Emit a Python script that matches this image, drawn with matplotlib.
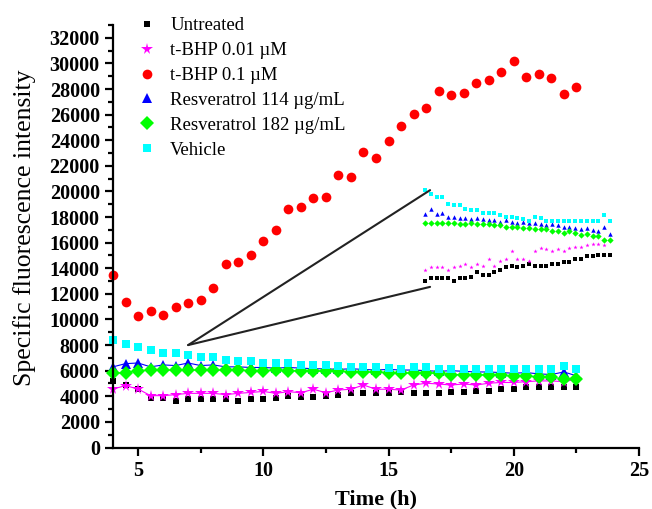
import numpy as np
import matplotlib
matplotlib.use("Agg")
import matplotlib.pyplot as plt
from matplotlib.ticker import MultipleLocator
from matplotlib.patches import ConnectionPatch
from matplotlib.lines import Line2D

plt.rcParams['font.family'] = ['Liberation Serif', 'DejaVu Serif']

time_h = np.arange(4.0, 22.51, 0.5)

untreated = [5200, 4900, 4600, 3860, 3860, 3650, 3780, 3780, 3780, 3780, 3650, 3780, 3780,
             3840, 4020, 3920, 3920, 4020, 4100, 4230, 4280, 4230, 4280, 4360, 4280, 4280,
             4280, 4360, 4360, 4440, 4440, 4550, 4550, 4700, 4700, 4750, 4750, 4750]
tbhp_001 = [4570, 4830, 4570, 4050, 4050, 4130, 4230, 4230, 4230, 4130, 4230, 4300, 4380,
            4230, 4360, 4280, 4550, 4280, 4490, 4550, 4880, 4550, 4550, 4490, 4880, 5020,
            4960, 4880, 4960, 4880, 5020, 5080, 5080, 5140, 5200, 5200, 5140, 5330]
tbhp_01 = [13500, 11400, 10300, 10700, 10350, 11000, 11250, 11550, 12450, 14350, 14500, 15000,
           16100, 17000, 18650, 18750, 19500, 19550, 21300, 21150, 23100, 22600, 23950, 25150,
           26050, 26550, 27850, 27550, 27650, 28450, 28700, 29300, 30200, 28900, 29200, 28850,
           27600, 28150]
resv_114 = [6300, 6550, 6600, 6300, 6450, 6400, 6600, 6400, 6450, 6300, 6300, 6250, 6250,
            6200, 6250, 6200, 6150, 6150, 6100, 6150, 6100, 6050, 6100, 6050, 6050, 6000,
            5950, 6000, 5950, 5900, 5900, 5850, 5800, 5850, 5750, 5700, 5900, 5600]
resv_182 = [5800, 5850, 6000, 6050, 6050, 6050, 6050, 6050, 6050, 6050, 6050, 6000, 6000,
            6050, 6000, 6000, 6000, 5950, 5950, 5900, 5900, 5900, 5850, 5850, 5800, 5800,
            5800, 5700, 5700, 5650, 5700, 5650, 5550, 5600, 5500, 5500, 5350, 5350]
vehicle = [8430, 8090, 7830, 7650, 7390, 7390, 7230, 7100, 7100, 6840, 6790, 6790, 6630,
           6570, 6570, 6470, 6470, 6470, 6390, 6310, 6310, 6260, 6210, 6130, 6310, 6260,
           6130, 6130, 6130, 6130, 6130, 6130, 6130, 6130, 6130, 6130, 6370, 6130]

labels = ["Untreated", "t-BHP 0.01 \u00b5M", "t-BHP 0.1 \u00b5M",
          "Resveratrol 114 \u00b5g/mL", "Resveratrol 182 \u00b5g/mL", "Vehicle"]

series = [untreated, tbhp_001, tbhp_01, resv_114, resv_182, vehicle]
colors = ["#000000", "#ff00ff", "#ff0000", "#0000ff", "#00ff00", "#00ffff"]
markers = ["s", "*", "o", "^", "D", "s"]
msizes = [5, 8.5, 7, 7, 7.5, 5.5]
lines = [False, True, False, True, True, False]

W, H = 652, 509
fig = plt.figure(figsize=(W / 100, H / 100), dpi=100)
ax = fig.add_axes([113 / W, 1 - 447.5 / H, (639 - 113) / W, (447.5 - 25) / H])

handles = []
for ys, c, m, ms, ln, lab in zip(series, colors, markers, msizes, lines, labels):
    ax.plot(time_h, ys, marker=m, color=c, markersize=ms, markeredgewidth=0,
            linestyle='-' if ln else 'none', linewidth=0.8, clip_on=False)
    handles.append(Line2D([], [], marker=m, color=c, markersize=ms, markeredgewidth=0,
                          linestyle='none', label=lab))

ax.set_xlim(4, 25)
ax.set_ylim(0, 33000)
ax.xaxis.set_major_locator(MultipleLocator(5))
ax.xaxis.set_minor_locator(MultipleLocator(2.5))
ax.yaxis.set_minor_locator(MultipleLocator(1000))
ax.set_yticks(np.arange(0, 32001, 2000))
for s in ['top', 'right']:
    ax.spines[s].set_visible(False)
for s in ['left', 'bottom']:
    ax.spines[s].set_linewidth(1.6)
ax.tick_params(which='major', direction='out', length=6, width=1.6, labelsize=14.5)
ax.tick_params(which='minor', direction='out', length=3.5, width=1.6)
for lbl in ax.get_xticklabels() + ax.get_yticklabels():
    lbl.set_fontweight('bold')

ax.set_xlabel("Time (h)", fontsize=16, fontweight='bold', labelpad=6)
ax.set_ylabel("Specific fluorescence intensity", fontsize=18.5)
ax.yaxis.set_label_coords(-0.147, 0.52)

fig.legend(handles=handles, loc='upper left', bbox_to_anchor=(128 / W, 1 - 8 / H),
           frameon=False, fontsize=13.5, handlelength=1.0, handletextpad=0.75,
           labelspacing=0.41, borderpad=0)

# inset: magnified view of the lower series
iax = fig.add_axes([422 / W, 1 - 290 / H, (614 - 422) / W, 104 / H])
sel = time_h >= 6.5
for idx, (ys, c, m) in enumerate(zip(series, colors, markers)):
    if idx == 2:
        continue
    iax.plot(time_h[sel], np.asarray(ys)[sel], marker=m, color=c, markersize=3.2,
             markeredgewidth=0, linestyle='none', clip_on=False)
iax.set_xlim(6.24, 22.85)
iax.set_ylim(3300, 7560)
iax.axis('off')

for yf in (0.96, 0.03):
    con = ConnectionPatch(xyA=(7, 8000), coordsA=ax.transData,
                          xyB=(0.042, yf), coordsB=iax.transAxes,
                          color='#222222', linewidth=1.5)
    fig.add_artist(con)

fig.savefig("out.png", dpi=100)
